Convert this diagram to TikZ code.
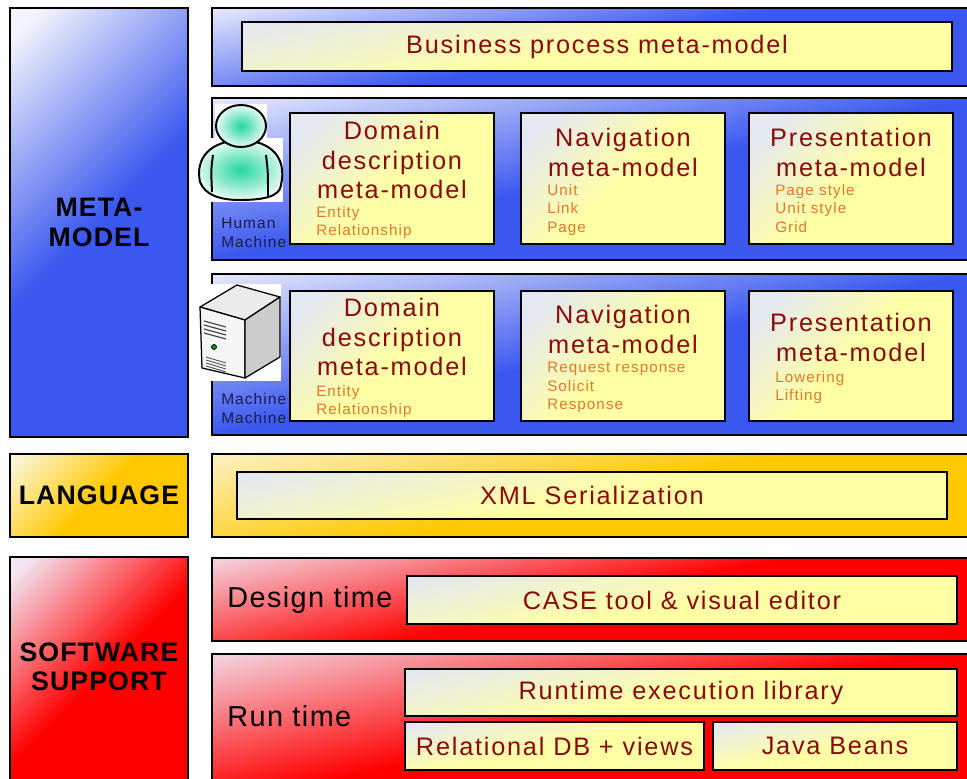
\documentclass[tikz,border=0pt]{standalone}
\usepackage{fontspec}
\setmainfont[LetterSpace=7]{Liberation Sans}
\newfontfamily\tierfont[LetterSpace=4]{Liberation Sans}
\newfontfamily\phasefont[LetterSpace=5]{Liberation Sans}
\usetikzlibrary{positioning}

\definecolor{bluedeep}{HTML}{3A58F0}
\definecolor{bluepale}{HTML}{F4F4FC}
\definecolor{golddeep}{HTML}{FFC800}
\definecolor{goldpale}{HTML}{FBF4D2}
\definecolor{reddeep}{HTML}{FF0000}
\definecolor{redpale}{HTML}{F2E6F2}
\definecolor{notedeep}{HTML}{FFFFA6}
\definecolor{notepale}{HTML}{E4E8F0}
\definecolor{titlered}{HTML}{8A0A0A}
\definecolor{itemorange}{HTML}{E07A28}
\definecolor{navytext}{HTML}{1C1C50}
\definecolor{mint}{HTML}{22D6A0}
\definecolor{mintpale}{HTML}{E8FAF2}

\newdimen\pxu
\pxu=0.025cm

% fades: deep colour over most of the box, pale towards one corner
\pgfdeclareverticalshading{bluefade}{100bp}{color(0bp)=(bluedeep); color(25bp)=(bluedeep); color(50bp)=(bluedeep); color(82bp)=(bluepale); color(100bp)=(bluepale)}
\pgfdeclareverticalshading{goldfade}{100bp}{color(0bp)=(golddeep); color(25bp)=(golddeep); color(50bp)=(golddeep); color(82bp)=(goldpale); color(100bp)=(goldpale)}
\pgfdeclareverticalshading{redfade}{100bp}{color(0bp)=(reddeep); color(25bp)=(reddeep); color(50bp)=(reddeep); color(82bp)=(redpale); color(100bp)=(redpale)}
\pgfdeclareverticalshading{notefade}{100bp}{color(0bp)=(notedeep); color(25bp)=(notedeep); color(50bp)=(notedeep); color(78bp)=(notepale); color(100bp)=(notepale)}

\tikzset{
  boxsize/.style 2 args={minimum width=#1\pxu, minimum height=#2\pxu},
  tier/.style={draw=black, line width=1.2pt, anchor=north west, inner sep=0pt, outer sep=0pt, shade, shading angle=45},
  bluetier/.style={tier, shading=bluefade},
  goldtier/.style={tier, shading=goldfade},
  redtier/.style={tier, shading=redfade},
  notebox/.style={tier, shading=notefade, line width=1.3pt},
  wide/.style={shading angle=12},
  tiername/.style={font=\tierfont\bfseries\fontsize{19}{21}\selectfont, align=center, inner sep=0pt},
  title/.style={text=titlered, font=\fontsize{18}{21}\selectfont, align=center, inner sep=0pt},
  items/.style={text=itemorange, font=\fontsize{10.8}{13.2}\selectfont, align=left, inner sep=0pt, anchor=north west},
  rolelabel/.style={text=navytext, font=\fontsize{11}{13.5}\selectfont, align=left, inner sep=0pt, anchor=north west},
  phase/.style={font=\phasefont\fontsize{20.5}{22}\selectfont, anchor=west, inner sep=0pt},
  outline/.style={draw=black, line width=1.4pt, line join=round},
}

\begin{document}
\begin{tikzpicture}[x=0.025cm, y=-0.025cm]
\useasboundingbox (0,0) rectangle (967,778);
\clip (0,0) rectangle (967,778);

% left column
\node[bluetier, boxsize={178}{429}] (meta) at (10,8) {};
\node[tiername] (metaname) at (meta.center) {META-\\MODEL};
\node[goldtier, boxsize={178}{83}] (lang) at (10,454) {};
\node[tiername] (langname) at (lang.center) {LANGUAGE};
\node[redtier, boxsize={178}{240}] (soft) at (10,557) {};
\node[tiername] (softname) at (99,667) {SOFTWARE\\SUPPORT};

% meta-model rows
\node[bluetier, wide, boxsize={765}{78}] (bizrow) at (212,8) {};
\node[notebox, wide, boxsize={710}{49}, title] (bizmodel) at (242,22) {Business process meta-model};
\node[bluetier, wide, boxsize={765}{162}] (humanrow) at (212,98) {};
\node[bluetier, wide, boxsize={765}{161}] (machinerow) at (212,274) {};

\foreach \x/\n in {290/dom,521/nav,749/pres}{
  \node[notebox, boxsize={204}{131}] (h\n) at (\x,113) {};
  \node[notebox, boxsize={204}{130}] (m\n) at (\x,291) {};
}

% human-machine row
\node[title, below=8\pxu of hdom.north] (hdomtitle) {Domain\\description\\meta-model};
\node[items] (hdomitems) at ([shift={(26,93)}]hdom.north west) {Entity\\Relationship};
\node[title, below=15\pxu of hnav.north] (hnavtitle) {Navigation\\meta-model};
\node[items] (hnavitems) at ([shift={(26,71)}]hnav.north west) {Unit\\Link\\Page};
\node[title, below=15\pxu of hpres.north] (hprestitle) {Presentation\\meta-model};
\node[items] (hpresitems) at ([shift={(26,71)}]hpres.north west) {Page style\\Unit style\\Grid};
\node[rolelabel] (humanlabel) at (221,218) {Human\\Machine};

% machine-machine row
\node[title, below=7\pxu of mdom.north] (mdomtitle) {Domain\\description\\meta-model};
\node[items] (mdomitems) at ([shift={(26,94)}]mdom.north west) {Entity\\Relationship};
\node[title, below=14\pxu of mnav.north] (mnavtitle) {Navigation\\meta-model};
\node[items] (mnavitems) at ([shift={(26,71)}]mnav.north west) {Request response\\Solicit\\Response};
\node[title, below=22\pxu of mpres.north] (mprestitle) {Presentation\\meta-model};
\node[items] (mpresitems) at ([shift={(26,80)}]mpres.north west) {Lowering\\Lifting};
\node[rolelabel] (machinelabel) at (221,393) {Machine\\Machine};

% person icon
\fill[white] (215,104) rectangle (267,140);
\fill[white] (197,138) rectangle (283,202);
\path[outline, inner color=mint, outer color=mintpale]
  (200,182) .. controls (195,158) and (210,141) .. (241,140)
  .. controls (272,141) and (287,158) .. (281,185)
  .. controls (280,196) and (265,200) .. (240,200)
  .. controls (220,200) and (205,195) .. (200,182) -- cycle;
\draw[outline] (213,155) .. controls (211,170) .. (212,192);
\draw[outline] (266,155) .. controls (268,172) .. (268,196);
\path[outline, inner color=mint, outer color=mintpale] (241,126) ellipse [x radius=25, y radius=21];

% server icon
\fill[white] (192,284) rectangle (281,381);
\filldraw[fill=black!8!white, draw=black, line width=0.9pt, line join=round]
  (200,307) -- (237,285) -- (280,297) -- (245,320) -- cycle;
\filldraw[fill=black!4!white, draw=black, line width=0.9pt, line join=round]
  (200,307) -- (245,320) -- (245,378) -- (202,368) -- cycle;
\filldraw[fill=black!20!white, draw=black, line width=0.9pt, line join=round]
  (245,320) -- (280,297) -- (280,357) -- (245,378) -- cycle;
\foreach \i in {0,1,2,3}
  \draw[black!75, line width=0.8pt] (204,{321+4*\i}) -- (226,{327+4*\i});
\filldraw[fill=green!60!black, draw=black, line width=0.5pt] (214,347) circle [radius=2.5];
\foreach \i in {0,1,2,3}
  \draw[black!70, line width=0.6pt] (206,{357+3*\i}) -- (226,{363+3*\i});

% language row
\node[goldtier, wide, boxsize={765}{83}] (xmlrow) at (212,454) {};
\node[notebox, wide, boxsize={710}{47}, title] (xml) at (237,472) {XML Serialization};

% software support rows
\node[redtier, wide, boxsize={765}{83}] (designrow) at (212,558) {};
\node[phase] (designtime) at (227,600) {Design time};
\node[notebox, wide, boxsize={550}{48}, title] (casetool) at (407,576) {CASE tool \& visual editor};

\node[redtier, wide, boxsize={765}{140}] (runrow) at (212,654) {};
\node[phase] (runtime) at (227,716) {Run time};
\node[notebox, wide, boxsize={552}{47}, title] (runlib) at (405,669) {Runtime execution library};
\node[notebox, wide, boxsize={299}{48}, title] (reldb) at (405,722) {Relational DB + views};
\node[notebox, wide, boxsize={244}{48}, title] (beans) at (713,722) {Java Beans};
\end{tikzpicture}
\end{document}
